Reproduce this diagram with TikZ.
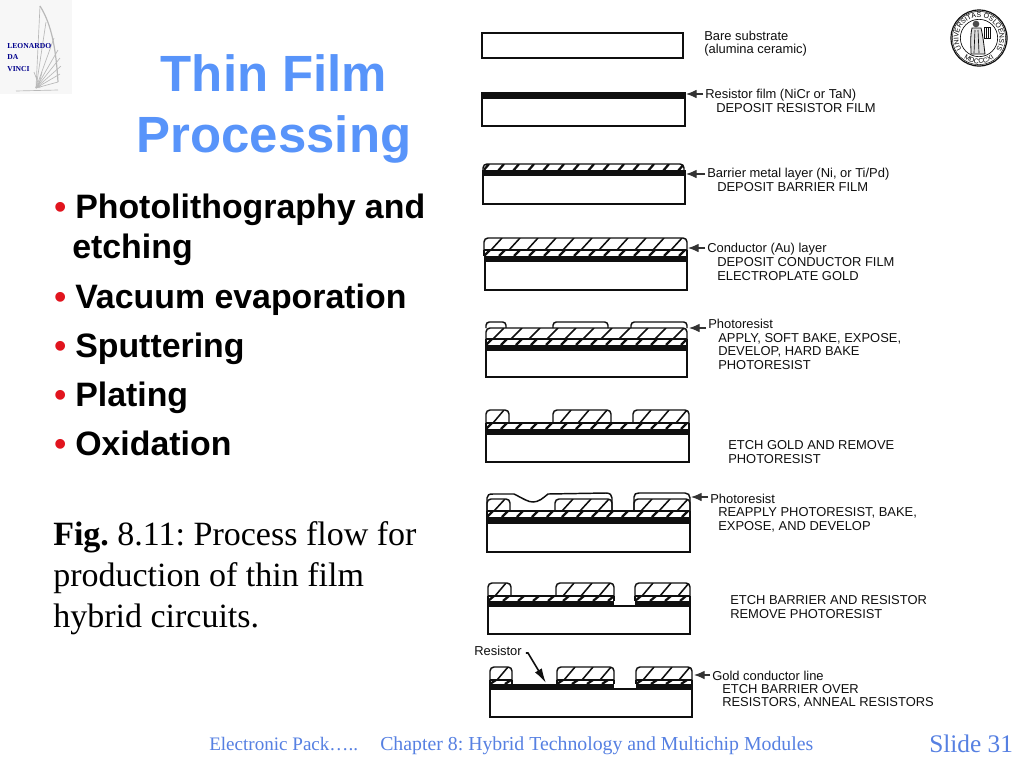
\documentclass[tikz,border=0pt]{standalone}
\usepackage{fontspec}
\setmainfont{Liberation Serif}
\newfontfamily\arialf{Liberation Sans}
\usetikzlibrary{arrows.meta,calc,decorations.text}
\AtBeginDocument{\frenchspacing}
\definecolor{titleblue}{RGB}{88,148,250}
\definecolor{footblue}{RGB}{86,128,226}
\definecolor{ink}{RGB}{15,15,15}
\definecolor{bulletred}{RGB}{225,20,30}
\tikzset{
  x=0.75pt,y=-0.75pt,
  ttl/.style={anchor=base,inner sep=0,text=titleblue,font=\arialf\bfseries\fontsize{38.2}{38.2}\selectfont},
  bull/.style={anchor=base west,inner sep=0,text=black,font=\arialf\bfseries\fontsize{25.4}{25.4}\selectfont},
  dot/.style={anchor=base west,inner sep=0,text=bulletred,font=\arialf\bfseries\fontsize{25.4}{25.4}\selectfont},
  fig/.style={anchor=base west,inner sep=0,text=black,font=\fontsize{25.5}{25.5}\selectfont},
  foot/.style={anchor=base west,inner sep=0,text=footblue,font=\fontsize{14.85}{14.85}\selectfont},
  lab/.style={anchor=base west,inner sep=0,text=ink,font=\arialf\fontsize{9.7}{9.7}\selectfont},
  ptr/.style={draw=ink!85,line width=0.9pt,shorten <=1.5pt,-{Latex[length=8pt,width=6.5pt]}},
  outl/.style={draw=ink,line width=1.1pt},
  logot/.style={anchor=base west,inner sep=0,text=blue!55!black,font=\bfseries\fontsize{5.7}{5.7}\selectfont},
  wing/.style={draw=gray!55,line width=0.5pt},
}
\newcommand{\substr}[4]{\draw[outl] (#1,#2) rectangle (#3,#4);}
\newcommand{\blackfilm}[4]{\fill[ink] (#1,#2) rectangle (#3,#4);}
\newcommand{\barr}[4]{%
  \begin{scope}
    \clip (#1,#2) rectangle (#3,#4);
    \foreach \hx in {0,15,...,270}{\draw[ink,line width=1.7pt] ({#1+\hx},#4) -- ({#1+\hx+6},#2);}
  \end{scope}
  \draw[ink,line width=1pt] (#1,#2) -- (#3,#2);
  \draw[ink,line width=1pt] (#1,#2) -- (#1,#4) (#3,#2) -- (#3,#4);}
\newcommand{\hatchblk}[4]{%
  \begin{scope}
    \clip[rounded corners=3pt] (#1,#4) -- (#1,#2) -- (#3,#2) -- (#3,#4) -- cycle;
    \foreach \hx in {0,18,...,270}{\draw[ink,line width=1.15pt] ({#1+\hx-11},#4) -- ({#1+\hx},#2);}
  \end{scope}
  \draw[outl,rounded corners=3pt] (#1,#4) -- (#1,#2) -- (#3,#2) -- (#3,#4);}
\newcommand{\pad}[4]{\draw[outl,rounded corners=2.5pt] (#1,#4) -- (#1,#2) -- (#3,#2) -- (#3,#4);}
\begin{document}
\begin{tikzpicture}
\useasboundingbox (0,0) rectangle (1024,768);
\fill[white] (0,0) rectangle (1024,768);

% ---------- left logo
\fill[gray!6] (0,0) rectangle (72,94);
\foreach \ex/\ey in {40/6,46/22,54/38,58/50,60/58,61/66,60/74,58/82}{\draw[wing] (36,88) -- (\ex,\ey);}
\draw[wing,line width=0.9pt] (40,6) .. controls (52,25) and (56,50) .. (58,82);
\draw[wing] (16,91) -- (58,90);
\draw[wing] (34,72) -- (40,88) (42,72) -- (38,88);
\node[logot] (logoa) at (7,48) {LEONARDO};
\node[logot] (logob) at (7,59) {DA};
\node[logot] (logoc) at (7,71) {VINCI};

% ---------- right seal
\coordinate (sc) at (979,38);
\draw[ink,line width=0.9pt] (sc) circle [radius=21pt];
\draw[ink,line width=0.4pt] (sc) circle [radius=20pt];
\draw[ink,line width=0.5pt] (sc) circle [radius=14pt];
\path[decorate,decoration={text along path,text align=center,
   text={|\arialf\fontsize{5.2}{5.2}\selectfont|UNIVERSITAS OSLOENSIS}}]
   ($(sc)+(222:15.4pt)$) arc [start angle=222,end angle=-42,radius=15.4pt];
\path[decorate,decoration={text along path,text align=center,
   text={|\arialf\fontsize{5.2}{5.2}\selectfont|MDCCCXI}}]
   ($(sc)+(232:19.2pt)$) arc [start angle=232,end angle=308,radius=19.2pt];
\fill[ink!75] (976,24) circle [radius=2.5pt];
\draw[ink,line width=0.6pt,fill=gray!25] (972,28) -- (981,28) .. controls (983,36) and (984,46) .. (985,54) -- (971,54) .. controls (971,46) and (970,36) .. (972,28) -- cycle;
\draw[ink,line width=0.5pt] (975,30) -- (974,53) (978,30) -- (979,53);
\draw[ink,line width=0.6pt] (984,27) rectangle (990,38);
\draw[ink,line width=0.4pt] (986,27) -- (986,38) (988,27) -- (988,38);

% ---------- title and bullets
\node[ttl] (t1) at (274,91) {Thin Film};
\node[ttl] (t2) at (274,152) {Processing};
\node[dot] (d1) at (54,218) {•};
\node[bull] (b1) at (75,218) {Photolithography and};
\node[bull] (b1b) at (72,258) {etching};
\node[dot] (d2) at (54,308) {•};
\node[bull] (b2) at (75,308) {Vacuum evaporation};
\node[dot] (d3) at (54,357) {•};
\node[bull] (b3) at (75,357) {Sputtering};
\node[dot] (d4) at (54,406) {•};
\node[bull] (b4) at (75,406) {Plating};
\node[dot] (d5) at (54,455) {•};
\node[bull] (b5) at (75,455) {Oxidation};
\node[fig] (f1) at (53,545) {\textbf{Fig.} 8.11: Process flow for};
\node[fig] (f2) at (53,586) {production of thin film};
\node[fig] (f3) at (53,627) {hybrid circuits.};

% ---------- footer
\node[foot,font=\fontsize{14.3}{14.3}\selectfont] (fa) at (209,750) {Electronic Pack…..};
\node[foot] (fb) at (380,750) {Chapter 8: Hybrid Technology and Multichip Modules};
\node[foot,font=\fontsize{19}{19}\selectfont] (fc) at (929,752) {Slide 31};

% ---------- step 1
\substr{482}{33}{683}{58}
\node[lab] (l1a) at (704,40) {Bare substrate};
\node[lab] (l1b) at (704,53) {(alumina ceramic)};

% ---------- step 2
\substr{482}{98}{685}{126}
\blackfilm{481}{92}{686}{98}
\node[lab] (l2a) at (705,98) {Resistor film (NiCr or TaN)};
\node[lab] (l2b) at (716,112) {DEPOSIT RESISTOR FILM};
\coordinate (c2) at (686,94);
\draw[ptr] (c2 -| l2a.west) -- (c2);

% ---------- step 3
\substr{483}{175}{685}{204}
\blackfilm{482}{170}{686}{175}
\begin{scope}
 \clip[rounded corners=3pt] (483,172) -- (483,164) -- (684,164) -- (684,172) -- cycle;
 \foreach \hx in {0,15,...,210}{\draw[ink,line width=1.7pt] ({483+\hx},171) -- ({483+\hx+6},164);}
\end{scope}
\draw[outl,rounded corners=3pt] (483,172) -- (483,164) -- (684,164) -- (684,172);
\node[lab] (l3a) at (707,177) {Barrier metal layer (Ni, or Ti/Pd)};
\node[lab] (l3b) at (717,191) {DEPOSIT BARRIER FILM};
\coordinate (c3) at (686,174);
\draw[ptr] (c3 -| l3a.west) -- (c3);

% ---------- step 4
\substr{485}{261}{687}{290}
\blackfilm{484}{256}{688}{261}
\barr{484}{250}{687}{256}
\hatchblk{484}{238}{687}{250}
\node[lab] (l4a) at (707,252) {Conductor (Au) layer};
\node[lab] (l4b) at (717,266) {DEPOSIT CONDUCTOR FILM};
\node[lab] (l4c) at (717,280) {ELECTROPLATE GOLD};
\coordinate (c4) at (688,248);
\draw[ptr] (c4 -| l4a.west) -- (c4);

% ---------- step 5
\substr{486}{350}{687}{377}
\blackfilm{485}{345}{688}{350}
\barr{486}{339}{687}{345}
\hatchblk{486}{328}{687}{339}
\pad{486}{322}{506}{328}
\pad{553}{322}{608}{328}
\pad{631}{322}{687}{328}
\node[lab] (l5a) at (708,328) {Photoresist};
\node[lab] (l5b) at (718,342) {APPLY, SOFT BAKE, EXPOSE,};
\node[lab] (l5c) at (718,355) {DEVELOP, HARD BAKE};
\node[lab] (l5d) at (718,369) {PHOTORESIST};
\coordinate (c5) at (689,328);
\draw[ptr] (c5 -| l5a.west) -- (c5);

% ---------- step 6
\substr{486}{434}{689}{462}
\blackfilm{485}{429}{690}{434}
\barr{486}{423}{689}{429}
\hatchblk{486}{410}{509}{423}
\hatchblk{553}{410}{611}{423}
\hatchblk{633}{410}{689}{423}
\node[lab] (l6a) at (728,449) {ETCH GOLD AND REMOVE};
\node[lab] (l6b) at (728,463) {PHOTORESIST};

% ---------- step 7
\substr{487}{523}{690}{552}
\blackfilm{486}{517}{691}{523}
\barr{487}{511}{690}{517}
\hatchblk{487}{499}{510}{511}
\hatchblk{555}{499}{612}{511}
\hatchblk{634}{499}{690}{511}
\draw[outl] (487,511) -- (487,498) .. controls (487,495) and (489,494) .. (493,494) -- (514,494) .. controls (524,499) and (528,502) .. (533,502) .. controls (539,502) and (543,498) .. (548,494) -- (606,493) .. controls (610,493) and (612,495) .. (612,498) -- (612,511);
\draw[outl] (634,511) -- (634,497) .. controls (634,494) and (636,493) .. (639,493) -- (685,493) .. controls (688,493) and (690,495) .. (690,498) -- (690,511);
\node[lab] (l7a) at (710,503) {Photoresist};
\node[lab] (l7b) at (718,516) {REAPPLY PHOTORESIST, BAKE,};
\node[lab] (l7c) at (718,530) {EXPOSE, AND DEVELOP};
\coordinate (c7) at (691,497);
\draw[ptr] (c7 -| l7a.west) -- (c7);

% ---------- step 8
\substr{488}{606}{690}{634}
\blackfilm{487}{601}{614}{606}
\blackfilm{635}{601}{691}{606}
\barr{488}{596}{614}{601}
\barr{635}{596}{690}{601}
\hatchblk{488}{583}{511}{596}
\hatchblk{556}{583}{614}{596}
\hatchblk{635}{583}{690}{596}
\node[lab] (l8a) at (730,604) {ETCH BARRIER AND RESISTOR};
\node[lab] (l8b) at (730,618) {REMOVE PHOTORESIST};

% ---------- step 9
\substr{490}{689}{692}{717}
\blackfilm{489}{684}{614}{689}
\blackfilm{636}{684}{693}{689}
\barr{490}{680}{512}{684}
\barr{557}{680}{614}{684}
\barr{636}{680}{692}{684}
\hatchblk{490}{667}{512}{680}
\hatchblk{557}{667}{614}{680}
\hatchblk{636}{667}{692}{680}
\node[lab] (l9r) at (474,655) {Resistor};
\coordinate (c9a) at (528,653);
\coordinate (c9r) at (546,683);
\draw[ink,line width=1.2pt,-{Latex[length=11pt,width=6pt]}] (l9r.east |- c9a) ++(3pt,0) -- (c9a) -- (c9r);
\node[lab] (l9a) at (712,680) {Gold conductor line};
\node[lab] (l9b) at (722,693) {ETCH BARRIER OVER};
\node[lab] (l9c) at (722,706) {RESISTORS, ANNEAL RESISTORS};
\coordinate (c9) at (694,675);
\draw[ptr] (c9 -| l9a.west) -- (c9);
\end{tikzpicture}
\end{document}
